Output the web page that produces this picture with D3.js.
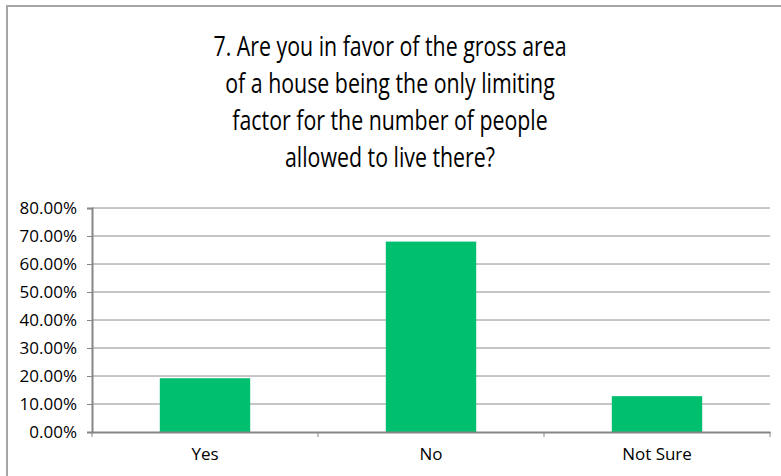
<!DOCTYPE html>
<html lang="en">
<head>
  <meta charset="UTF-8">
  <title>Gross area as the only limiting factor</title>
  <script src="https://d3js.org/d3.v7.min.js"></script>
  <style>
    body { margin: 0; background: #fff; }
    svg { display: block; }
    .tick text { font-family: "Open Sans", sans-serif; font-size: 17px; fill: #000; }
    .title { font-family: "Open Sans", sans-serif; font-size: 27px; fill: #000; }
  </style>
</head>
<body>
<svg width="781" height="476"></svg>

<script>
  // survey answers, share of respondents
  const categories = ["Yes", "No", "Not Sure"];
  const values = [0.192, 0.680, 0.128];
  const yTicks = [0, 0.1, 0.2, 0.3, 0.4, 0.5, 0.6, 0.7, 0.8];
  const titleLines = [
    "7. Are you in favor of the gross area",
    "of a house being the only limiting",
    "factor for the number of people",
    "allowed to live there?"
  ];

  const svg = d3.select("svg");
  const margin = {top: 208, right: 11, bottom: 44, left: 92};
  const width = 781 - margin.left - margin.right,
        height = 476 - margin.top - margin.bottom;

  // outer chart frame (right and bottom edges fall outside the picture)
  svg.append("rect")
    .attr("x", 7).attr("y", 6)
    .attr("width", 790).attr("height", 490)
    .attr("fill", "none")
    .attr("stroke", "#a6a6a6")
    .attr("stroke-width", 2);

  // title, squeezed sideways to look like the narrow original font
  svg.append("text")
    .attr("class", "title")
    .attr("text-anchor", "middle")
    .attr("transform", "translate(390,0) scale(0.79,1)")
    .selectAll("tspan")
    .data(titleLines)
    .join("tspan")
      .attr("x", 0)
      .attr("y", (d, i) => 56 + i * 37)
      .text(d => d);

  const g = svg.append("g").attr("transform", `translate(${margin.left},${margin.top})`);

  const x = d3.scaleBand()
    .domain(categories)
    .range([0, width])
    .paddingInner(0.6)
    .paddingOuter(0.3);

  const y = d3.scaleLinear()
    .domain([0, 0.8])
    .range([height, 0]);

  // gridlines
  g.append("g")
    .selectAll("line")
    .data(yTicks.slice(1))
    .join("line")
      .attr("x1", 0).attr("x2", width)
      .attr("y1", d => y(d)).attr("y2", d => y(d))
      .attr("stroke", "#8c8c8c")
      .attr("stroke-width", 1);

  // bars
  g.append("g")
    .selectAll("rect")
    .data(values)
    .join("rect")
      .attr("x", (d, i) => x(categories[i]))
      .attr("y", d => y(d))
      .attr("width", x.bandwidth())
      .attr("height", d => height - y(d))
      .attr("fill", "#00bf6f");

  // y axis
  const yAxis = g.append("g")
    .call(d3.axisLeft(y).tickValues(yTicks).tickFormat(d3.format(".2%")).tickSize(5).tickPadding(10));
  yAxis.select(".domain").attr("stroke", "#868686").attr("stroke-width", 2);
  yAxis.selectAll(".tick line").attr("stroke", "#868686");

  // x axis, ticks at category boundaries
  const step = x.step();
  const xAxis = g.append("g")
    .attr("transform", `translate(0,${height})`)
    .call(d3.axisBottom(x).tickSize(0).tickPadding(16));
  xAxis.select(".domain").attr("stroke", "#868686").attr("stroke-width", 2);
  xAxis.selectAll(".tick text").attr("font-size", 16);
  xAxis.append("g")
    .selectAll("line")
    .data(d3.range(categories.length + 1))
    .join("line")
      .attr("x1", i => i * step).attr("x2", i => i * step)
      .attr("y1", 0).attr("y2", 5)
      .attr("stroke", "#868686");
</script>
</body>
</html>
